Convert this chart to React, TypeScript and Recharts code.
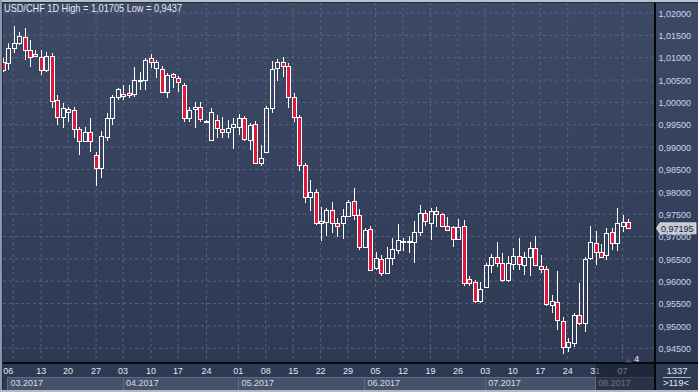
import React from 'react';
import { ComposedChart, Bar, XAxis, YAxis, CartesianGrid, ReferenceLine } from 'recharts';

// ---- data (USD/CHF daily candles) ----
const openP = [
  1.00903, 1.00881, 1.01216, 1.01328, 1.01463, 1.01172, 1.01082, 1.01015, 1.00724, 1.01037,
  1.00052, 0.99672, 0.99784, 0.99828, 0.99403, 0.99134, 0.99336, 0.98821, 0.9853, 0.99224,
  0.99649, 1.00119, 1.00187, 1.00209, 1.00187, 1.00477, 1.005, 1.00993, 1.00769, 1.00746,
  1.00231, 1.00634, 1.00545, 1.00388, 0.99649, 0.99851, 0.99896, 0.99582, 0.99157, 0.99604,
  0.99403, 0.99336, 0.99448, 0.99448, 0.99649, 0.99157, 0.99515, 0.98642, 0.98888, 0.99873,
  1.00769, 1.00903, 1.00813, 1.00119, 0.99672, 0.98597, 0.97881, 0.97993, 0.97299, 0.97321,
  0.9759, 0.97299, 0.97299, 0.97455, 0.97791, 0.97478, 0.96761, 0.97164, 0.96291, 0.96493,
  0.96179, 0.96515, 0.96694, 0.96873, 0.96873, 0.96873, 0.97097, 0.97522, 0.97299, 0.97567,
  0.975, 0.97231, 0.97209, 0.9694, 0.97231, 0.96045, 0.95978, 0.95552, 0.95866, 0.96358,
  0.96537, 0.96403, 0.96022, 0.96381, 0.9656, 0.96358, 0.96537, 0.96739, 0.96336, 0.96269,
  0.95463, 0.9553, 0.95105, 0.94522, 0.94612, 0.95239, 0.9506, 0.96515, 0.96851, 0.96649,
  0.96582, 0.97097, 0.96851, 0.97231, 0.97321,
];
const highP = [
  1.00993, 1.01328, 1.01705, 1.01575, 1.01664, 1.01396, 1.01172, 1.01172, 1.01127, 1.01104,
  1.00164, 0.99985, 0.99896, 0.99896, 0.99448, 0.99448, 0.99649, 0.98888, 0.99358, 0.99761,
  1.00164, 1.00321, 1.00388, 1.00388, 1.00791, 1.00679, 1.00993, 1.01082, 1.00948, 1.00813,
  1.00657, 1.00657, 1.0059, 1.00433, 0.99896, 1.00007, 1.00007, 0.99604, 0.99873, 0.99716,
  0.99672, 0.99604, 0.99649, 0.99739, 0.99694, 0.99537, 0.99582, 0.99045, 0.99918, 1.00925,
  1.0097, 1.01015, 1.00881, 1.00209, 0.99716, 0.98642, 0.98261, 0.9806, 0.97657, 0.97634,
  0.97769, 0.9741, 0.97612, 0.97813, 0.98082, 0.97612, 0.97187, 0.97231, 0.96649, 0.96582,
  0.96761, 0.96963, 0.97276, 0.96963, 0.97007, 0.97343, 0.97702, 0.9759, 0.97634, 0.97657,
  0.97522, 0.97433, 0.97231, 0.97388, 0.97366, 0.96112, 0.96022, 0.95978, 0.96403, 0.96604,
  0.96873, 0.96627, 0.9656, 0.96739, 0.96963, 0.96649, 0.96873, 0.97007, 0.96582, 0.96336,
  0.95687, 0.96224, 0.95194, 0.94724, 0.95284, 0.95955, 0.96537, 0.97231, 0.97119, 0.96828,
  0.97187, 0.97187, 0.97634, 0.97478, 0.97388,
];
const lowP = [
  1.00679, 1.00724, 1.01104, 1.01284, 1.00948, 1.00791, 1.01015, 1.00612, 1.00679, 0.99873,
  0.99493, 0.99425, 0.9956, 0.99201, 0.98821, 0.99112, 0.98888, 0.98127, 0.98306, 0.99134,
  0.99493, 1.00052, 1.00052, 1.00097, 1.00119, 1.00276, 1.00276, 1.00769, 1.00545, 1.00209,
  1.00097, 1.00321, 1.00231, 0.9956, 0.9956, 0.99425, 0.9956, 0.9956, 0.99134, 0.99201,
  0.99201, 0.99201, 0.98955, 0.99269, 0.99134, 0.98933, 0.98619, 0.98575, 0.98866, 0.99761,
  1.00477, 1.00567, 0.99873, 0.9956, 0.98463, 0.97746, 0.97567, 0.97254, 0.96896, 0.97007,
  0.97075, 0.96985, 0.9694, 0.97433, 0.97366, 0.96694, 0.96739, 0.96224, 0.96246, 0.96112,
  0.96157, 0.96358, 0.96604, 0.96672, 0.96627, 0.96403, 0.97007, 0.97231, 0.96918, 0.97209,
  0.97209, 0.97142, 0.96761, 0.9694, 0.95888, 0.95888, 0.95507, 0.95507, 0.95866, 0.96179,
  0.96313, 0.95978, 0.95978, 0.96246, 0.96246, 0.96134, 0.96112, 0.96336, 0.96179, 0.9544,
  0.95284, 0.94903, 0.9437, 0.9441, 0.94522, 0.95015, 0.94858, 0.9647, 0.96358, 0.96515,
  0.9647, 0.96694, 0.96672, 0.97097, 0.97164,
];
const closeP = [
  1.00724, 1.01216, 1.01328, 1.01485, 1.01172, 1.01015, 1.01037, 1.00724, 1.01037, 1.0003,
  0.99672, 0.99873, 0.99851, 0.99403, 0.99134, 0.99336, 0.99134, 0.9853, 0.99246, 0.99649,
  1.00119, 1.00299, 1.00142, 1.00164, 1.005, 1.005, 1.00948, 1.00903, 1.00903, 1.00231,
  1.00612, 1.00567, 1.00455, 0.99649, 0.99828, 0.99896, 0.99627, 0.99582, 0.99784, 0.99425,
  0.99336, 0.99425, 0.99515, 0.99649, 0.99179, 0.99493, 0.98642, 0.98754, 0.99873, 1.00746,
  1.00903, 1.00813, 1.00119, 0.99672, 0.98597, 0.97881, 0.97993, 0.97299, 0.97343, 0.9759,
  0.97299, 0.97231, 0.97455, 0.97769, 0.97478, 0.96761, 0.97142, 0.96246, 0.96515, 0.96179,
  0.96515, 0.96716, 0.96918, 0.96896, 0.96896, 0.97097, 0.97522, 0.97343, 0.97567, 0.975,
  0.97231, 0.97142, 0.9694, 0.97209, 0.95955, 0.95955, 0.95552, 0.95821, 0.96358, 0.96537,
  0.96403, 0.96022, 0.96403, 0.9656, 0.96381, 0.96537, 0.96739, 0.96358, 0.96269, 0.95485,
  0.95552, 0.95127, 0.94522, 0.94634, 0.95239, 0.9506, 0.96493, 0.96873, 0.96649, 0.96537,
  0.97075, 0.96851, 0.97299, 0.97321, 0.97195,
];

const weekTicks = [1.8, 6.9, 11.8, 16.9, 21.8, 26.9, 31.8, 37, 42.8, 47.8, 52.8, 57.8, 62.8, 67.8, 72.8, 77.8, 82.8, 87.8, 92.8, 97.8, 102.8, 107.8, 112.8];
const weekLabels = ['06', '13', '20', '27', '03', '10', '17', '24', '01', '08', '15', '22', '29', '05', '12', '19', '26', '03', '10', '17', '24', '31', '07'];
const monthStarts = [0.7, 21.75, 42.75, 65.7, 87.7, 107.75];
const monthLabels = ['03.2017', '04.2017', '05.2017', '06.2017', '07.2017', '08.2017'];
const priceTicks = [0.945, 0.95, 0.955, 0.96, 0.965, 0.97, 0.975, 0.98, 0.985, 0.99, 0.995, 1.0, 1.005, 1.01, 1.015, 1.02];
const lastPrice = 0.97195;
const titleText = 'USD/CHF 1D High = 1,01705 Low = 0,9437';
const barsCountText = '1337';
const zoomText = '>119<';
const shiftText = '4';

// ---- layout ----
const W = 698;
const H = 392;
const PLOT_L = 3;
const PLOT_R = 655;
const PLOT_T = 2;
const PLOT_B = 363;
const X_MIN = -0.055;
const X_MAX = 118.7;
const Y_MIN = 0.941711;
const Y_MAX = 1.022461;
const FONT = "'Liberation Sans', Arial, Helvetica, sans-serif";

const ADV: Record<string, number> = { ',': 0.278, '.': 0.278, '<': 0.584, '>': 0.584, '/': 0.278, ' ': 0.278 };
const textW = (s: string, fs: number) => s.split('').reduce((a, c) => a + (ADV[c] ?? 0.556), 0) * fs;
const fmtPrice = (v: number) => v.toFixed(5).replace('.', ',');

const Candle = (p: any) => {
  const { x, y, width, height, payload } = p;
  if (payload == null || x == null || y == null) return null;
  const { open, close, high, low } = payload;
  let top = y;
  let h = height;
  if (h < 0) {
    top = y + h;
    h = -h;
  }
  const k = high > low ? h / (high - low) : 0;
  const py = (v: number) => top + (high - v) * k;
  const n = Math.floor(x + width / 2);
  const cx = n + 0.5;
  const up = close >= open;
  const yH = Math.round(py(high));
  const yL = Math.round(py(low));
  const bT = Math.round(py(Math.max(open, close)));
  let bB = Math.round(py(Math.min(open, close)));
  if (bB - bT < 1) bB = bT + 1;
  return (
    <g>
      {bT > yH && <line x1={cx} x2={cx} y1={yH} y2={bT} stroke="#ffffff" strokeWidth={1} />}
      {yL > bB && <line x1={cx} x2={cx} y1={bB} y2={yL} stroke="#ffffff" strokeWidth={1} />}
      <rect x={n - 1.5} y={bT + 0.5} width={4} height={bB - bT} fill={up ? 'none' : '#e3163c'} stroke="#ffffff" strokeWidth={1} />
    </g>
  );
};

const XTick = (props: any) => {
  const { x, y, payload } = props;
  const v = payload?.value;
  const wi = weekTicks.indexOf(v);
  if (wi >= 0) {
    const label = weekLabels[wi];
    const w = textW(label, 9);
    const tx = wi === 0 ? PLOT_L + 0.3 : x - w / 2;
    return (
      <text x={tx} y={y + 11.3} fill="#e2e8f0" fontSize={9.5} fontFamily={FONT} textLength={w} lengthAdjust="spacingAndGlyphs">
        {label}
      </text>
    );
  }
  const mi = monthStarts.indexOf(v);
  if (mi < 0) return null;
  const pxPer = (PLOT_R - PLOT_L) / (X_MAX - X_MIN);
  const x2 = mi + 1 < monthStarts.length ? x + (monthStarts[mi + 1] - v) * pxPer : PLOT_R;
  const label = monthLabels[mi];
  const w = textW(label, 9);
  const last = mi === monthStarts.length - 1;
  const bx = Math.round(x) + 0.5;
  return (
    <g>
      <rect x={bx} y={y + 14.5} width={Math.round(x2) - Math.round(x)} height={14} fill="#46526b" stroke="#5f6b85" strokeWidth={1} />
      <text x={x + 3.4} y={y + 23} fill="#d5dce7" fontSize={9.5} fontFamily={FONT} textLength={w} lengthAdjust="spacingAndGlyphs">
        {label}
      </text>
      {last && <rect x={bx + 0.5} y={y + 1} width={PLOT_R - bx - 1} height={28} fill="rgba(20,26,40,0.55)" />}
    </g>
  );
};

const YTick = (props: any) => {
  const { x, y, payload } = props;
  const s = fmtPrice(payload.value);
  return (
    <text x={x + 3.5} y={y + 3.7} fill="#c9d6ec" fontSize={9.5} fontFamily={FONT} textLength={textW(s, 9)} lengthAdjust="spacingAndGlyphs">
      {s}
    </text>
  );
};

const PriceTag = (props: any) => {
  const vb = props.viewBox;
  if (!vb) return null;
  const cy = vb.y;
  const xr = vb.x + vb.width;
  const s = fmtPrice(lastPrice);
  return (
    <g>
      <path
        d={`M${xr + 1.5},${cy + 0.5} L${xr + 5},${cy - 5} L${xr + 41},${cy - 5} L${xr + 41},${cy + 6} L${xr + 5},${cy + 6} Z`}
        fill="#c6cbd2"
        stroke="#e4e7eb"
        strokeWidth={0.8}
      />
      <text x={xr + 6} y={cy + 4.2} fill="#18223b" fontSize={9.5} fontFamily={FONT} textLength={textW(s, 9)} lengthAdjust="spacingAndGlyphs">
        {s}
      </text>
    </g>
  );
};

const vGen = (args: any) => {
  const s = args?.xAxis?.scale;
  if (!s) return [];
  return weekTicks.map((t) => (typeof s === 'function' ? s(t) : s.map(t)));
};

export default function App() {
  const data = openP.map((o, i) => ({ i, open: o, high: highP[i], low: lowP[i], close: closeP[i] }));
  return (
    <div
      style={{
        position: 'absolute',
        left: 0,
        top: 0,
        width: W,
        height: H,
        overflow: 'hidden',
        background: 'linear-gradient(180deg, #3d4a66 0%, #2d3852 100%)',
        fontFamily: FONT,
      }}
    >
      <ComposedChart width={W} height={H} data={data} margin={{ top: PLOT_T, right: 0, bottom: 0, left: PLOT_L }}>
        <CartesianGrid stroke="#56647f" strokeDasharray="3 3" horizontal vertical verticalCoordinatesGenerator={vGen} />
        <XAxis
          dataKey="i"
          type="number"
          domain={[X_MIN, X_MAX]}
          allowDataOverflow
          ticks={[...weekTicks, ...monthStarts]}
          interval={0}
          height={H - PLOT_B}
          tickLine={false}
          tickSize={0}
          tickMargin={0}
          axisLine={{ stroke: '#05070c', strokeWidth: 2 }}
          tick={(p: any) => <XTick {...p} />}
        />
        <YAxis
          orientation="right"
          type="number"
          domain={[Y_MIN, Y_MAX]}
          allowDataOverflow
          ticks={priceTicks}
          interval={0}
          width={W - PLOT_R}
          tickLine={false}
          tickSize={0}
          tickMargin={0}
          axisLine={{ stroke: '#05070c', strokeWidth: 2 }}
          tick={(p: any) => <YTick {...p} />}
        />
        <Bar dataKey={(d: any) => [d.low, d.high]} barSize={5} isAnimationActive={false} shape={(p: any) => <Candle {...p} />} />
        <ReferenceLine y={lastPrice} stroke="none" label={<PriceTag />} />
      </ComposedChart>
      <svg width={W} height={H} style={{ position: 'absolute', left: 0, top: 0, pointerEvents: 'none' }}>
        <rect x={0} y={0} width={W} height={2} fill="#b8bfc9" />
        <rect x={2} y={2} width={W - 2} height={1} fill="#242c3f" />
        <rect x={0} y={0} width={2} height={H} fill="#8a97ac" />
        <rect x={2} y={3} width={1} height={H - 5} fill="#242c3f" />
        <rect x={0} y={390} width={W} height={2} fill="#b3bac4" />
        <rect x={654} y={363} width={2} height={27} fill="#05070c" />
        <rect x={655} y={362} width={W - 655} height={2} fill="#05070c" />
        <text x={4} y={11.7} fill="#e6ebf2" fontSize={10.5} fontFamily={FONT} textLength={178} lengthAdjust="spacingAndGlyphs">
          {titleText}
        </text>
        <text x={677} y={374} fill="#e2e8f0" fontSize={9.5} fontFamily={FONT} textAnchor="middle">
          {barsCountText}
        </text>
        <rect x={663} y={377} width={28} height={1} fill="#aab4c4" />
        <text x={676} y={386} fill="#e2e8f0" fontSize={9.5} fontFamily={FONT} textAnchor="middle">
          {zoomText}
        </text>
        <path d="M625,362.5 L632,362.5 L628.5,358.5 Z" fill="#4a5368" />
        <text x={634} y={362.3} fill="#e2e8f0" fontSize={9.5} fontFamily={FONT}>
          {shiftText}
        </text>
      </svg>
    </div>
  );
}
